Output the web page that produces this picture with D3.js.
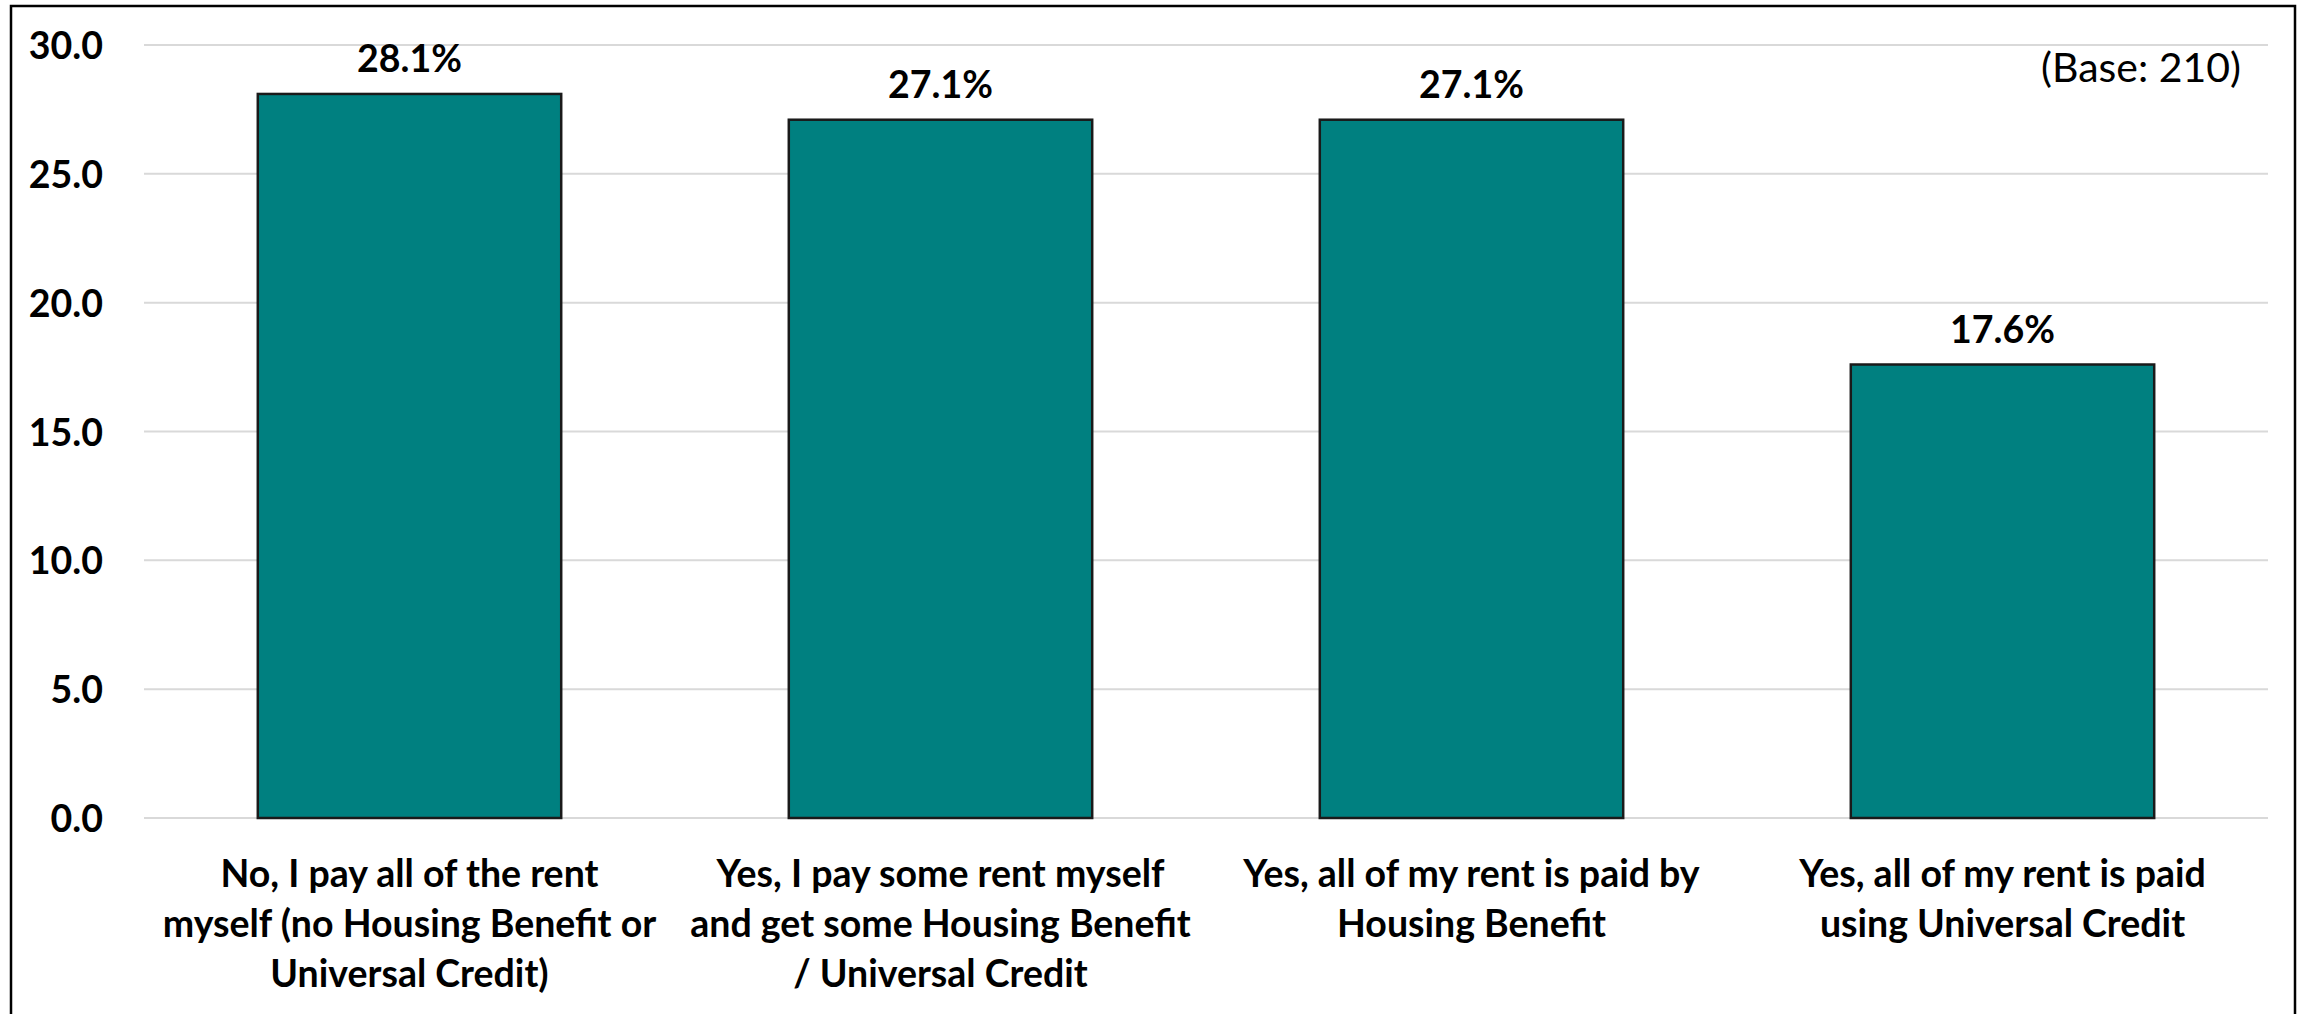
<!DOCTYPE html>
<html>
<head>
<meta charset="utf-8">
<script src="https://cdn.jsdelivr.net/npm/d3@7"></script>
<style>
  html, body { margin: 0; padding: 0; background: #ffffff; }
  svg { display: block; }
  text { font-family: Lato, "Open Sans", "Liberation Sans", sans-serif; fill: #000; }
</style>
</head>
<body>
<svg id="chart" width="2303" height="1014"></svg>
<script>
// Rent payment responses (percent of respondents)
const categories = [
  ["No, I pay all of the rent", "myself (no Housing Benefit or", "Universal Credit)"],
  ["Yes, I pay some rent myself", "and get some Housing Benefit", "/ Universal Credit"],
  ["Yes, all of my rent is paid by", "Housing Benefit"],
  ["Yes, all of my rent is paid", "using Universal Credit"]
];
const values = [28.1, 27.1, 27.1, 17.6];
const yTicks = [0, 5, 10, 15, 20, 25, 30];
const baseNote = "(Base: 210)";

const svg = d3.select("#chart");
const W = 2303, H = 1014;
const plot = { left: 144, right: 2268, top: 45, bottom: 818 };
const labelSize = 37.5;

// chart frame (bottom edge falls outside the canvas)
svg.append("path")
  .attr("d", `M11,${H + 5} L11,6 L2295,6 L2295,${H + 5}`)
  .attr("fill", "none")
  .attr("stroke", "#000")
  .attr("stroke-width", 2.5);

const x = d3.scaleBand()
  .domain(d3.range(categories.length))
  .range([plot.left, plot.right])
  .paddingInner(0.4286)
  .paddingOuter(0.2143);

const y = d3.scaleLinear()
  .domain([0, 30])
  .range([plot.bottom, plot.top]);

// horizontal gridlines
svg.append("g")
  .selectAll("line")
  .data(yTicks)
  .join("line")
  .attr("x1", plot.left)
  .attr("x2", plot.right)
  .attr("y1", d => y(d))
  .attr("y2", d => y(d))
  .attr("stroke", "#d9d9d9")
  .attr("stroke-width", 2);

// y axis tick labels
const yAxis = d3.axisLeft(y)
  .tickValues(yTicks)
  .tickFormat(d3.format(".1f"))
  .tickSize(0)
  .tickPadding(0);
const yG = svg.append("g")
  .attr("transform", "translate(103,0)")
  .call(yAxis);
yG.select(".domain").remove();
yG.selectAll("text")
  .attr("font-family", "Lato, 'Open Sans', sans-serif")
  .attr("font-size", labelSize)
  .attr("font-weight", 700)
  .attr("fill", "#000")
  .attr("dy", "0.36em");

// bars
svg.append("g")
  .selectAll("rect")
  .data(values)
  .join("rect")
  .attr("x", (d, i) => x(i))
  .attr("width", x.bandwidth())
  .attr("y", d => y(d))
  .attr("height", d => y(0) - y(d))
  .attr("fill", "#008080")
  .attr("stroke", "#1a1a1a")
  .attr("stroke-width", 2.5);

// value labels
svg.append("g")
  .selectAll("text")
  .data(values)
  .join("text")
  .attr("x", (d, i) => x(i) + x.bandwidth() / 2)
  .attr("y", d => y(d) - 22)
  .attr("text-anchor", "middle")
  .attr("font-size", labelSize)
  .attr("font-weight", 700)
  .text(d => d.toFixed(1) + "%");

// category labels
const catG = svg.append("g")
  .selectAll("text")
  .data(categories)
  .join("text")
  .attr("text-anchor", "middle")
  .attr("font-size", labelSize)
  .attr("font-weight", 700);
catG.each(function(lines, i) {
  const cx = x(i) + x.bandwidth() / 2;
  d3.select(this).selectAll("tspan")
    .data(lines)
    .join("tspan")
    .attr("x", cx)
    .attr("y", (l, j) => 887 + j * 50)
    .text(l => l);
});

// base note
svg.append("text")
  .attr("x", 2241)
  .attr("y", 82)
  .attr("text-anchor", "end")
  .attr("font-size", 41)
  .attr("font-weight", 400)
  .text(baseNote);
</script>
</body>
</html>
